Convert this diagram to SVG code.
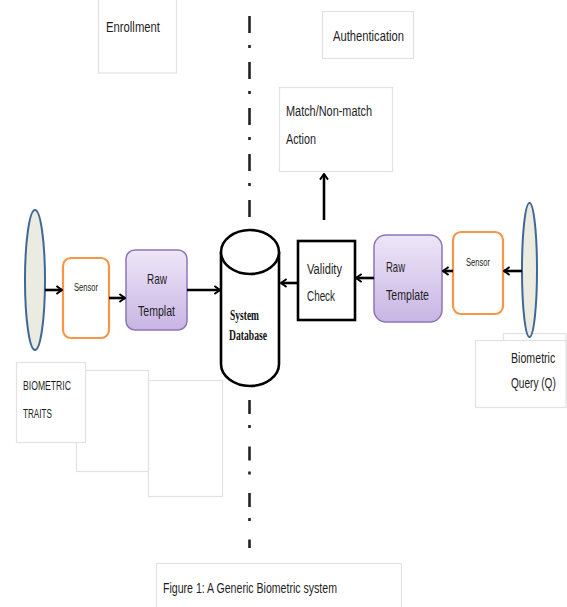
<svg xmlns="http://www.w3.org/2000/svg" width="567" height="607" viewBox="0 0 567 607">
  <defs>
    <linearGradient id="lav" x1="0" y1="0" x2="0" y2="1">
      <stop offset="0" stop-color="#EEE6F8"/>
      <stop offset="1" stop-color="#C8B5E3"/>
    </linearGradient>
    <marker id="arrow" viewBox="0 0 10 12" refX="9" refY="6" markerWidth="8" markerHeight="10" markerUnits="userSpaceOnUse" orient="auto">
      <path d="M2,1 L9,6 L2,11" fill="none" stroke="#000" stroke-width="2.4" stroke-linejoin="miter"/>
    </marker>
  </defs>
  <style>
    .txt { font-family: "Liberation Sans", Arial, sans-serif; fill: #1e1e1e; }
    .note { fill: #fff; stroke: #e2e2e2; stroke-width: 1.2; }
    .sensor { fill: #fff; stroke: #F79646; stroke-width: 2.2; }
    .raw { fill: url(#lav); stroke: #8D76B8; stroke-width: 1.5; }
    .eye { fill: #ECEBE2; stroke: #3F6896; stroke-width: 2; }
    .link { stroke: #000; stroke-width: 2.6; fill: none; marker-end: url(#arrow); }
    .axis { stroke: #222; stroke-width: 2.6; fill: none; }
  </style>

  <rect width="567" height="607" fill="#fff"/>

  <!-- section headers -->
  <g id="enrollment-label">
    <rect class="note" x="98.5" y="-2" width="78" height="75"/>
    <text class="txt" x="106" y="32" font-size="15" textLength="54" lengthAdjust="spacingAndGlyphs">Enrollment</text>
  </g>
  <g id="authentication-label">
    <rect class="note" x="322.5" y="11.5" width="91" height="47"/>
    <text class="txt" x="333" y="41" font-size="15" textLength="71" lengthAdjust="spacingAndGlyphs">Authentication</text>
  </g>

  <!-- dash-dot divider between the two phases -->
  <g id="divider">
    <line class="axis" x1="249.5" y1="16" x2="249.5" y2="226" stroke-dasharray="17 12 3 14"/>
    <line class="axis" x1="249.5" y1="400" x2="249.5" y2="548" stroke-dasharray="14 11 3 18.5"/>
  </g>

  <!-- overlapping caption boxes for the traits -->
  <g id="biometric-traits">
    <rect class="note" x="148.5" y="380.5" width="74" height="116"/>
    <rect class="note" x="76.5" y="370.5" width="72" height="101"/>
    <rect class="note" x="16.5" y="362.5" width="69" height="80"/>
    <text class="txt" x="23" y="390" font-size="13" textLength="48" lengthAdjust="spacingAndGlyphs">BIOMETRIC</text>
    <text class="txt" x="23" y="418" font-size="13" textLength="29" lengthAdjust="spacingAndGlyphs">TRAITS</text>
  </g>

  <g id="biometric-query">
    <rect class="note" x="503.5" y="333.5" width="62.5" height="70"/>
    <rect class="note" x="475.5" y="340.5" width="90.5" height="67"/>
    <text class="txt" transform="translate(511,363) scale(0.76,1)" font-size="14">Biometric</text>
    <text class="txt" transform="translate(511,388) scale(0.72,1)" font-size="14">Query (Q)</text>
  </g>

  <g id="action">
    <rect class="note" x="279.5" y="87.5" width="113" height="84"/>
    <text class="txt" x="286" y="116" font-size="14" textLength="86" lengthAdjust="spacingAndGlyphs">Match/Non-match</text>
    <text class="txt" x="286" y="144" font-size="14" textLength="30" lengthAdjust="spacingAndGlyphs">Action</text>
  </g>

  <!-- enrollment chain -->
  <g id="trait-source">
    <ellipse class="eye" cx="35" cy="280" rx="10" ry="70"/>
  </g>
  <g id="sensor-enroll">
    <rect class="sensor" x="63" y="258" width="46" height="80" rx="8"/>
    <text class="txt" x="74" y="291" font-size="10" textLength="24" lengthAdjust="spacingAndGlyphs">Sensor</text>
  </g>
  <g id="raw-templat">
    <rect class="raw" x="126" y="250" width="61" height="80" rx="9"/>
    <text class="txt" x="147" y="284" font-size="15" textLength="20" lengthAdjust="spacingAndGlyphs">Raw</text>
    <text class="txt" x="138" y="316" font-size="15" textLength="37" lengthAdjust="spacingAndGlyphs">Templat</text>
  </g>

  <!-- shared store -->
  <g id="system-database">
    <path d="M221,252 L221,364 A29,22 0 0 0 279,364 L279,252" fill="#fff" stroke="#000" stroke-width="2.6"/>
    <ellipse cx="250" cy="252" rx="29" ry="22" fill="#fff" stroke="#000" stroke-width="2.6"/>
    <text x="230" y="320" font-family="'Liberation Serif', 'Times New Roman', serif" font-weight="bold" font-size="14" fill="#111" textLength="29" lengthAdjust="spacingAndGlyphs">System</text>
    <text x="229" y="340" font-family="'Liberation Serif', 'Times New Roman', serif" font-weight="bold" font-size="14" fill="#111" textLength="38" lengthAdjust="spacingAndGlyphs">Database</text>
  </g>

  <!-- authentication chain -->
  <g id="validity-check">
    <rect x="298" y="241" width="57" height="79" fill="#fff" stroke="#000" stroke-width="2.6"/>
    <text class="txt" x="307" y="274" font-size="14" textLength="35" lengthAdjust="spacingAndGlyphs">Validity</text>
    <text class="txt" x="307" y="301" font-size="14" textLength="28" lengthAdjust="spacingAndGlyphs">Check</text>
  </g>
  <g id="raw-template">
    <rect class="raw" x="374" y="235" width="68" height="87" rx="12"/>
    <text class="txt" x="386" y="272" font-size="15" textLength="19" lengthAdjust="spacingAndGlyphs">Raw</text>
    <text class="txt" x="386" y="300" font-size="15" textLength="43" lengthAdjust="spacingAndGlyphs">Template</text>
  </g>
  <g id="sensor-auth">
    <rect class="sensor" x="453" y="232" width="50" height="82" rx="8"/>
    <text class="txt" x="466" y="266" font-size="10" textLength="24" lengthAdjust="spacingAndGlyphs">Sensor</text>
  </g>
  <g id="query-source">
    <ellipse class="eye" cx="529.5" cy="270" rx="7.5" ry="67"/>
  </g>

  <g id="caption">
    <rect class="note" x="156.5" y="563.5" width="245" height="50"/>
    <text class="txt" x="163" y="593" font-size="14" textLength="174" lengthAdjust="spacingAndGlyphs">Figure 1:  A Generic Biometric system</text>
  </g>

  <!-- connectors -->
  <g id="connectors">
    <line class="link" x1="45" y1="290" x2="62" y2="290"/>
    <line class="link" x1="109" y1="298" x2="125" y2="298"/>
    <line class="link" x1="187" y1="290" x2="220" y2="290"/>
    <line class="link" x1="522" y1="271" x2="504" y2="271"/>
    <line class="link" x1="453" y1="271" x2="443" y2="271"/>
    <line class="link" x1="374" y1="278" x2="356" y2="278"/>
    <line class="link" x1="298" y1="283" x2="281" y2="283"/>
    <line class="link" x1="324" y1="220" x2="324" y2="174"/>
  </g>
</svg>
